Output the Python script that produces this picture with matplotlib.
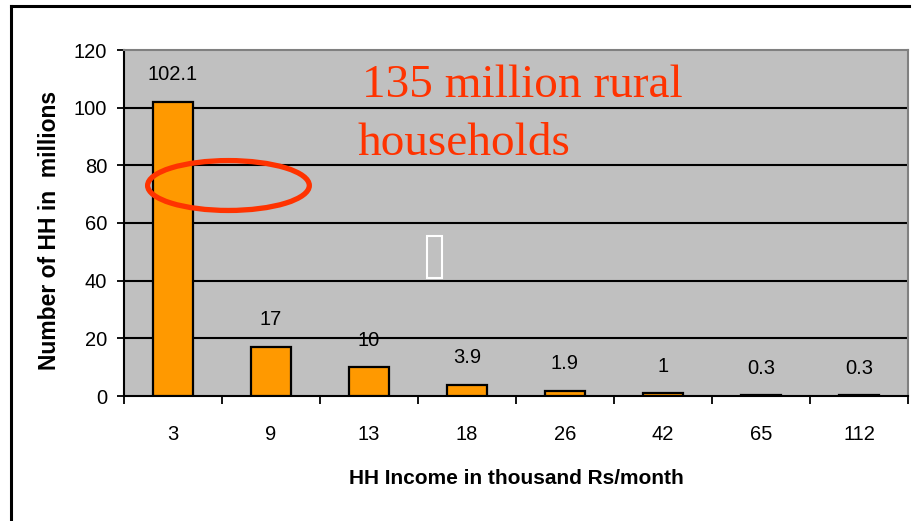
import matplotlib.pyplot as plt
from matplotlib.patches import Ellipse, Rectangle
from matplotlib.lines import Line2D

# data
income = ['3', '9', '13', '18', '26', '42', '65', '112']
households = [102.1, 17, 10, 3.9, 1.9, 1, 0.3, 0.3]
bar_labels = ['102.1', '17', '10', '3.9', '1.9', '1', '0.3', '0.3']
yticks = [0, 20, 40, 60, 80, 100, 120]

W, H = 914, 521
fig = plt.figure(figsize=(W / 100, H / 100), dpi=100)
fig.patch.set_facecolor('white')

# plot area in pixel terms
left, right, top, bottom = 124, 908, 50, 396
ax = fig.add_axes([left / W, (H - bottom) / H, (right - left) / W, (bottom - top) / H])
ax.set_facecolor('#C0C0C0')

x = list(range(len(income)))
ax.bar(x, households, width=0.41, color='#FF9900', edgecolor='black', linewidth=1.6, zorder=3)

ax.set_xlim(-0.5, len(income) - 0.5)
ax.set_ylim(0, 120)

# gridlines (black, drawn over the data labels like in the original)
for v in yticks[1:-1]:
    ax.axhline(v, color='black', linewidth=1.5, zorder=2.5)

for xi, v, lab in zip(x, households, bar_labels):
    ax.annotate(lab, (xi, v), xytext=(0, 19.5), textcoords='offset points',
                ha='center', va='center', fontsize=14.5, family='Liberation Sans', zorder=2)

# ticks
ax.set_yticks(yticks)
ax.set_yticklabels([str(t) for t in yticks], fontsize=14.5, family='Liberation Sans')
ax.tick_params(axis='y', length=5, width=1.3, pad=7, direction='out')
ax.set_xticks(x)
ax.set_xticklabels(income, fontsize=14.5, family='Liberation Sans')
ax.tick_params(axis='x', which='major', length=0, pad=21)
ax.set_xticks([i + 0.5 for i in range(-1, len(income))], minor=True)
ax.tick_params(axis='x', which='minor', length=6, width=1.3, direction='out')

for side in ['top', 'right']:
    ax.spines[side].set_color('#808080')
    ax.spines[side].set_linewidth(1.5)
for side in ['left', 'bottom']:
    ax.spines[side].set_color('black')
    ax.spines[side].set_linewidth(1.5)

# axis titles
fig.text(516 / W, 1 - 479 / H, 'HH Income in thousand Rs/month', ha='center', va='center',
         fontsize=15, fontweight='bold', family='Liberation Sans')
fig.text(50 / W, 1 - 230 / H, 'Number of HH in  millions', ha='center', va='center',
         rotation=90, fontsize=16.5, fontweight='bold', family='Liberation Sans')

# annotation text, ellipse and leftover box
red = '#FF3300'
fig.text(362 / W, 1 - 97 / H, '135 million rural', ha='left', va='baseline',
         fontsize=34, color=red, family='Liberation Serif')
fig.text(357 / W, 1 - 155 / H, 'households', ha='left', va='baseline',
         fontsize=34, color=red, family='Liberation Serif')

ax.add_patch(Ellipse((0.566, 73.0), 1.65, 17.3, fill=False, edgecolor=red, linewidth=3.8, zorder=4))
ax.add_patch(Rectangle((2.589, 41.0), 0.153, 14.5, fill=False, edgecolor='white', linewidth=1.5, zorder=4))

# outer frame (top and left edges only are visible)
fig.add_artist(Line2D([11 / W, 909 / W], [1 - 6 / H, 1 - 6 / H], color='black', linewidth=2.2))
fig.add_artist(Line2D([11 / W, 11 / W], [0, 1 - 6 / H], color='black', linewidth=2.2))

fig.savefig('out.png', dpi=100)
